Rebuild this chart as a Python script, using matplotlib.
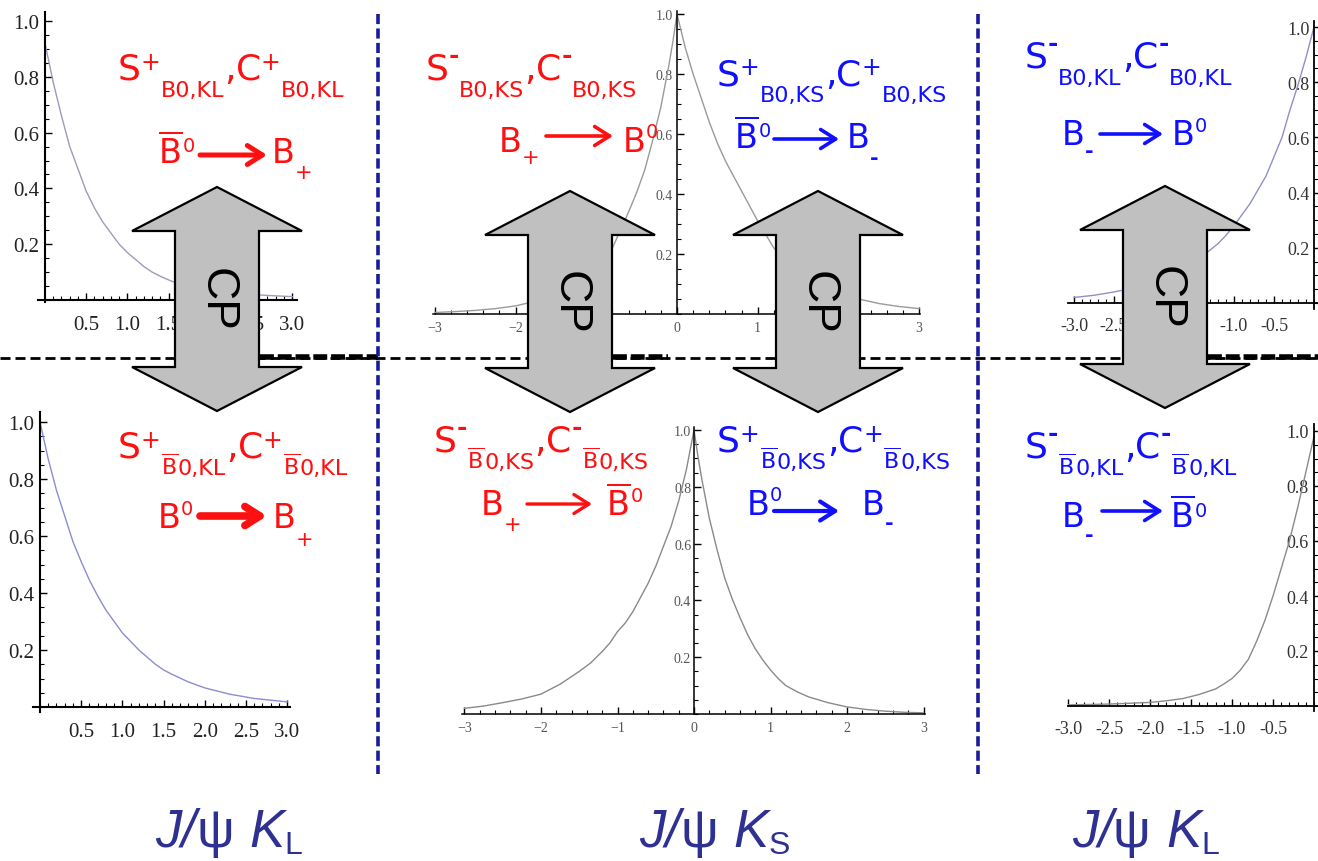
import matplotlib
matplotlib.use("Agg")
import matplotlib.pyplot as plt
from matplotlib.patches import Polygon, FancyArrowPatch
from matplotlib.ticker import MultipleLocator

# ---------------- data ----------------
# time-dependent rates for the six decay configurations
tl_t = [0, 0.1, 0.2, 0.3, 0.4, 0.5, 0.6, 0.7, 0.8, 0.9, 1.0, 1.1, 1.2, 1.3, 1.4, 1.5, 1.6,
        1.8, 2.0, 2.3, 2.6, 3.0]
tl_v = [0.92, 0.78, 0.66, 0.55, 0.47, 0.39, 0.33, 0.28, 0.24, 0.20, 0.17, 0.145, 0.12, 0.10,
        0.085, 0.072, 0.06, 0.045, 0.035, 0.025, 0.018, 0.012]

bl_t = [0, 0.1, 0.2, 0.3, 0.4, 0.5, 0.6, 0.7, 0.8, 0.9, 1.0, 1.1, 1.2, 1.3, 1.4, 1.5, 1.6,
        1.8, 2.0, 2.3, 2.6, 3.0]
bl_v = [1.0, 0.87, 0.76, 0.67, 0.58, 0.51, 0.445, 0.39, 0.34, 0.30, 0.26, 0.23, 0.20, 0.175,
        0.15, 0.13, 0.115, 0.088, 0.067, 0.045, 0.030, 0.018]

tm_t = [-3.0, -2.75, -2.5, -2.25, -2.0, -1.75, -1.5, -1.35, -1.2, -1.1, -1.0, -0.9, -0.8, -0.7,
        -0.6, -0.5, -0.4, -0.3, -0.2, -0.1, -0.05, 0.0,
        0.05, 0.1, 0.2, 0.3, 0.4, 0.5, 0.6, 0.7, 0.8, 0.9, 1.0, 1.1, 1.2, 1.35, 1.5, 1.75,
        2.0, 2.25, 2.5, 2.75, 3.0]
tm_v = [0.005, 0.008, 0.012, 0.018, 0.027, 0.043, 0.065, 0.085, 0.11, 0.13, 0.155, 0.185, 0.22,
        0.28, 0.34, 0.405, 0.48, 0.58, 0.69, 0.83, 0.91, 1.0,
        0.945, 0.89, 0.80, 0.72, 0.64, 0.57, 0.51, 0.46, 0.41, 0.36, 0.31, 0.265, 0.22, 0.18,
        0.14, 0.10, 0.07, 0.05, 0.035, 0.025, 0.018]

bm_t = [-3.0, -2.75, -2.5, -2.25, -2.0, -1.75, -1.5, -1.35, -1.2, -1.1, -1.0, -0.9, -0.8, -0.7,
        -0.6, -0.5, -0.4, -0.3, -0.2, -0.1, -0.05, 0.0,
        0.05, 0.1, 0.2, 0.3, 0.4, 0.5, 0.6, 0.7, 0.8, 0.9, 1.0, 1.1, 1.2, 1.35, 1.5, 1.75,
        2.0, 2.25, 2.5, 2.75, 3.0]
bm_v = [0.02, 0.028, 0.04, 0.053, 0.07, 0.105, 0.15, 0.18, 0.22, 0.25, 0.29, 0.32, 0.36, 0.41,
        0.46, 0.52, 0.59, 0.66, 0.75, 0.86, 0.93, 1.0,
        0.91, 0.83, 0.69, 0.58, 0.48, 0.405, 0.34, 0.28, 0.23, 0.19, 0.155, 0.125, 0.10, 0.078,
        0.06, 0.04, 0.025, 0.016, 0.01, 0.006, 0.004]

tr_t = [-3.0, -2.75, -2.5, -2.25, -2.0, -1.75, -1.5, -1.35, -1.2, -1.1, -1.0, -0.9, -0.8, -0.7,
        -0.6, -0.5, -0.4, -0.3, -0.2, -0.1, 0.0]
tr_v = [0.02, 0.028, 0.04, 0.055, 0.075, 0.105, 0.145, 0.18, 0.215, 0.245, 0.28, 0.32, 0.36,
        0.41, 0.46, 0.53, 0.60, 0.70, 0.79, 0.89, 1.0]

br_t = [-3.0, -2.5, -2.25, -2.0, -1.8, -1.6, -1.4, -1.2, -1.1, -1.0, -0.9, -0.8, -0.7, -0.6,
        -0.5, -0.4, -0.3, -0.2, -0.1, 0.0]
br_v = [0.004, 0.007, 0.01, 0.013, 0.019, 0.027, 0.042, 0.062, 0.08, 0.10, 0.13, 0.17, 0.235,
        0.31, 0.40, 0.50, 0.60, 0.72, 0.85, 0.98]

# tick positions and labels
pos_ticks = [0.5, 1.0, 1.5, 2.0, 2.5, 3.0]
pos_labels = ["0.5", "1.0", "1.5", "2.0", "2.5", "3.0"]
sym_ticks = [-3, -2, -1, 0, 1, 2, 3]
sym_labels = ["\u22123", "\u22122", "\u22121", "0", "1", "2", "3"]
neg_ticks = [-3.0, -2.5, -2.0, -1.5, -1.0, -0.5]
neg_labels = ["-3.0", "-2.5", "-2.0", "-1.5", "-1.0", "-0.5"]
y_ticks = [0.2, 0.4, 0.6, 0.8, 1.0]
y_labels = ["0.2", "0.4", "0.6", "0.8", "1.0"]

channels = ["J/\u03c8 K", "J/\u03c8 K", "J/\u03c8 K"]
channel_subs = ["L", "S", "L"]

# ---------------- figure ----------------
W, H = 1318, 862
fig = plt.figure(figsize=(W / 100, H / 100), dpi=100)
fig.patch.set_facecolor("white")

RED = "#ff1010"
BLUE = "#1010ff"
NAVY = "#1a1a9a"
INDIGO = "#2e3192"


def panel(t, v, x0, sx, y0, sy, xlim, ylim, xt, xl, yt, yl, xminor, yminor,
          line_color, lab_size, lab_color, xpad, ypad, spine_lw=1.2):
    left = x0 + xlim[0] * sx
    right = x0 + xlim[1] * sx
    top = y0 - ylim[1] * sy
    bot = y0 - ylim[0] * sy
    ax = fig.add_axes([left / W, 1 - bot / H, (right - left) / W, (bot - top) / H], zorder=1)
    ax.set_xlim(xlim)
    ax.set_ylim(ylim)
    ax.patch.set_alpha(0)
    for s in ("top", "right"):
        ax.spines[s].set_visible(False)
    for s in ("left", "bottom"):
        ax.spines[s].set_position(("data", 0))
        ax.spines[s].set_linewidth(spine_lw)
    ax.plot(t, v, color=line_color, lw=1.0)
    ax.set_xticks(xt)
    ax.set_xticklabels(xl)
    ax.set_yticks(yt)
    ax.set_yticklabels(yl)
    ax.xaxis.set_minor_locator(MultipleLocator(xminor))
    ax.yaxis.set_minor_locator(MultipleLocator(yminor))
    ax.tick_params(which="major", direction="in", length=5, width=1.0,
                   labelsize=lab_size, labelcolor=lab_color)
    ax.tick_params(which="minor", direction="in", length=3, width=0.8)
    ax.tick_params(axis="x", which="major", pad=xpad)
    ax.tick_params(axis="y", which="major", pad=ypad)
    for lab in ax.get_xticklabels() + ax.get_yticklabels():
        lab.set_family("Liberation Serif")
    return ax


# the six rate panels
panel(tl_t, tl_v, 45, 82.4, 301, 279, (-0.085, 3.06), (-0.007, 1.032),
      pos_ticks, pos_labels, y_ticks, y_labels, 0.1, 0.05, "#9c9cba", 15, "#222222", 11, 4, 1.5)
panel(bl_t, bl_v, 40, 82.4, 708, 285, (-0.085, 3.03), (-0.018, 1.035),
      pos_ticks, pos_labels, y_ticks, y_labels, 0.1, 0.05, "#8c8cd0", 15, "#222222", 11, 4, 1.5)
panel(tm_t, tm_v, 677, 80.7, 315, 300, (-3.02, 3.01), (0, 1.01),
      sym_ticks, sym_labels, y_ticks, y_labels, 0.2, 0.05, "#9a9a9a", 10, "#555555", 5, 3, 1.1)
panel(bm_t, bm_v, 694, 76.5, 715, 284, (-3.03, 3.02), (0, 1.01),
      sym_ticks, sym_labels, y_ticks, y_labels, 0.2, 0.05, "#8a8a8a", 10, "#555555", 5, 2, 1.1)
panel(tr_t, tr_v, 1314, 80, 304, 276, (-3.08, 0.05), (-0.02, 1.02),
      neg_ticks, neg_labels, y_ticks, y_labels, 0.1, 0.05, "#9090c8", 13, "#333333", 10, 3, 1.3)
panel(br_t, br_v, 1314, 82, 707, 275, (-3.0, 0.05), (-0.018, 1.025),
      neg_ticks, neg_labels, y_ticks, y_labels, 0.1, 0.05, "#8a8a8a", 13, "#333333", 10, 4, 1.3)

# ---------------- overlay in pixel coordinates ----------------
ov = fig.add_axes([0, 0, 1, 1], zorder=10)
ov.set_xlim(0, W)
ov.set_ylim(H, 0)
ov.axis("off")
renderer = fig.canvas.get_renderer()

# separators
ov.plot([0, W], [359, 359], color="black", lw=2.0, ls=(0, (3.6, 1.8)), zorder=1)
for xa, xb in [(260, 378), (613, 668), (1208, W)]:
    ov.plot([xa, xb], [358, 358], color="black", lw=4.0, ls=(0, (2.5, 0.7)), zorder=1)
for xv in (378, 978):
    ov.plot([xv, xv], [15, 775], color=NAVY, lw=2.6, ls=(0, (2.8, 1.2)), zorder=1)

# CP double arrows
for cx, y1, y2 in [(217, 188, 412), (570, 192, 413), (818, 192, 413), (1165, 187, 409)]:
    hw, sw, hh = 85, 42, 44
    verts = [(cx, y1), (cx + hw, y1 + hh), (cx + sw, y1 + hh), (cx + sw, y2 - hh),
             (cx + hw, y2 - hh), (cx, y2), (cx - hw, y2 - hh), (cx - sw, y2 - hh),
             (cx - sw, y1 + hh), (cx - hw, y1 + hh)]
    ov.add_patch(Polygon(verts, closed=True, facecolor="#c0c0c0", edgecolor="black",
                         lw=1.6, zorder=3))
    ov.text(cx, (y1 + y2) / 2, "CP", rotation=-90, ha="center", va="center",
            fontsize=33, family="Liberation Sans", color="black", zorder=4)


def draw_runs(x, y, parts, color, family="DejaVu Sans"):
    for p in parts:
        text, size, dy = p[0], p[1], p[2]
        opts = dict(p[3]) if len(p) > 3 else {}
        gap = opts.pop("gap", 0)
        t = ov.text(x, y - dy, text, fontsize=size, color=color, family=family,
                    ha="left", va="baseline", zorder=6, **opts)
        x += t.get_window_extent(renderer=renderer).width + gap
    return x


BBAR = r"$\overline{\mathrm{B}}$"
BOLD = {"fontweight": "bold"}


def coeff_label(x, y, sign, sub, barred, color):
    if sign == "+":
        sup = ("+", 17, 10)
    else:
        sup = ("-", 18, 17, BOLD)
    if barred:
        sp = [(BBAR, 16, -17), ("0," + sub, 16, -17)]
    else:
        sp = [("B0," + sub, 16, -17)]
    parts = [("S", 26, 0), sup] + sp + [(",", 26, 0), ("C", 26, 0), sup] + sp
    draw_runs(x, y, parts, color)


def transition(xl, y, left, ax1, ax2, ay, alw, xr, right, color):
    draw_runs(xl, y, left, color)
    ov.add_patch(FancyArrowPatch((ax1, ay), (ax2, ay),
                                 arrowstyle="->,head_length=0.6,head_width=0.38",
                                 mutation_scale=18, color=color, lw=alw,
                                 shrinkA=0, shrinkB=0, zorder=6))
    draw_runs(xr, y, right, color)


# top row
coeff_label(118, 80, "+", "KL", False, RED)
coeff_label(426, 80, "-", "KS", False, RED)
coeff_label(717, 85, "+", "KS", False, BLUE)
coeff_label(1025, 68, "-", "KL", False, BLUE)

transition(158, 163, [(BBAR, 24, 0), ("0", 14, 11)], 200, 267, 156, 3.6,
           272, [("B", 24, 0), ("+", 15, -16)], RED)
transition(499, 152, [("B", 24, 0), ("+", 15, -12)], 546, 613, 137, 2.6,
           623, [("B", 24, 0), ("0", 14, 14)], RED)
transition(734, 148, [(BBAR, 24, 0), ("0", 14, 11)], 774, 839, 140, 2.6,
           847, [("B", 24, 0), ("-", 15, -17, BOLD)], BLUE)
transition(1062, 145, [("B", 24, 0), ("-", 15, -13, BOLD)], 1100, 1163, 135, 2.6,
           1172, [("B", 24, 0), ("0", 14, 13)], BLUE)

# bottom row
coeff_label(118, 458, "+", "KL", True, RED)
coeff_label(434, 452, "-", "KS", True, RED)
coeff_label(717, 452, "+", "KS", True, BLUE)
coeff_label(1025, 458, "-", "KL", True, BLUE)

transition(158, 528, [("B", 24, 0), ("0", 14, 13)], 200, 267, 517, 5.5,
           273, [("B", 24, 0), ("+", 15, -18)], RED)
transition(481, 515, [("B", 24, 0), ("+", 15, -16)], 527, 592, 505, 2.4,
           606, [(BBAR, 24, 0), ("0", 14, 13)], RED)
transition(747, 515, [("B", 24, 0), ("0", 14, 14)], 774, 839, 512, 3.0,
           862, [("B", 24, 0), ("-", 15, -15, BOLD)], BLUE)
transition(1062, 527, [("B", 24, 0), ("-", 15, -15, BOLD)], 1102, 1163, 512, 2.6,
           1170, [(BBAR, 24, 0), ("0", 14, 10)], BLUE)

# final-state labels under each column
for xs, name, sub in zip([155, 639, 1072], channels, channel_subs):
    head, kaon = name.split(" ")
    draw_runs(xs, 847, [(head[:2], 38, 0, {"style": "italic"}),
                        (head[2:], 38, 0, {"gap": 16}),
                        (kaon, 38, 0, {"style": "italic"}),
                        (sub, 23, -7)], INDIGO, family="Liberation Sans")

fig.savefig("out.png", dpi=100)
